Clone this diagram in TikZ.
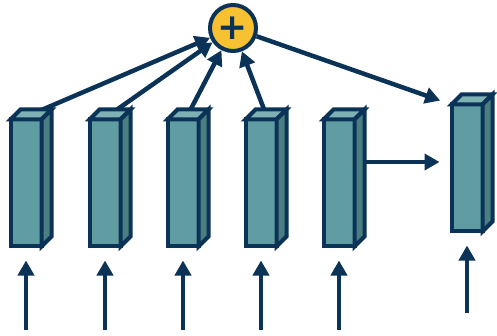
\documentclass[tikz,border=0pt]{standalone}
\usepackage{fontspec}
\newfontfamily\plusfont{DejaVu Sans}
\usepackage{tikz}
\usetikzlibrary{arrows.meta,calc,backgrounds}
\definecolor{navy}{HTML}{0A3357}
\definecolor{tealfront}{HTML}{5F9DA2}
\definecolor{tealside}{HTML}{4B7E81}
\definecolor{tealtop}{HTML}{7DB1B4}
\definecolor{sumyellow}{HTML}{F8C131}
\tikzset{
  barfront/.style={rectangle,draw=navy,fill=tealfront,line width=4pt,
                   minimum width=31pt,minimum height=127pt,inner sep=0pt,outer sep=0pt},
  barface/.style ={draw=navy,line width=4pt,line join=miter},
  sumnode/.style ={circle,draw=navy,fill=sumyellow,line width=4pt,
                   minimum size=46pt,inner sep=0pt,font=\plusfont\bfseries\fontsize{36}{36}\selectfont,text=navy},
  flow/.style    ={draw=navy,line width=4.5pt,-{Triangle[length=15pt,width=16pt]}},
}
\begin{document}
\begin{tikzpicture}[x=1pt,y=-1pt]
  \useasboundingbox (0,0) rectangle (497,336);
  % input bars and the output bar
  \foreach \x/\y/\name in {26/183/b1,105/183/b2,183/183/b3,261/183/b4,339/183/b5,467/168/b6}{
     \node[barfront] (\name) at (\x,\y) {};
     \draw[barface,fill=tealtop] (\name.north west) -- ++(10,-10) -- ++(31,0) -- (\name.north east) -- cycle;
     \draw[barface,fill=tealside] (\name.north east) -- ++(10,-10) -- ($(\name.south east)+(10,-10)$) -- (\name.south east) -- cycle;
     \coordinate (\name t) at ($(\name.north)+(5,-5)$);
  }
  \node[sumnode] (sum) at (233,28) {+};
  \begin{scope}[on background layer]
    \foreach \name in {b1,b2,b3,b4}{
       \draw[flow] (\name t) -- (sum);
    }
    \draw[flow,shorten >=12pt] (sum) -- (b6.north west);
    \coordinate (skip) at ([yshift=6pt]b6.west);
    \draw[flow,shorten >=12pt] (b5.center |- skip) -- (skip);
  \end{scope}
  % inputs
  \foreach \name in {b1,b2,b3,b4,b5}{
     \draw[flow,shorten >=14pt] (\name.south |- 0,330) -- (\name.south);
  }
  \draw[flow,shorten >=14pt] (b6.south |- 0,313) -- (b6.south);
\end{tikzpicture}
\end{document}
